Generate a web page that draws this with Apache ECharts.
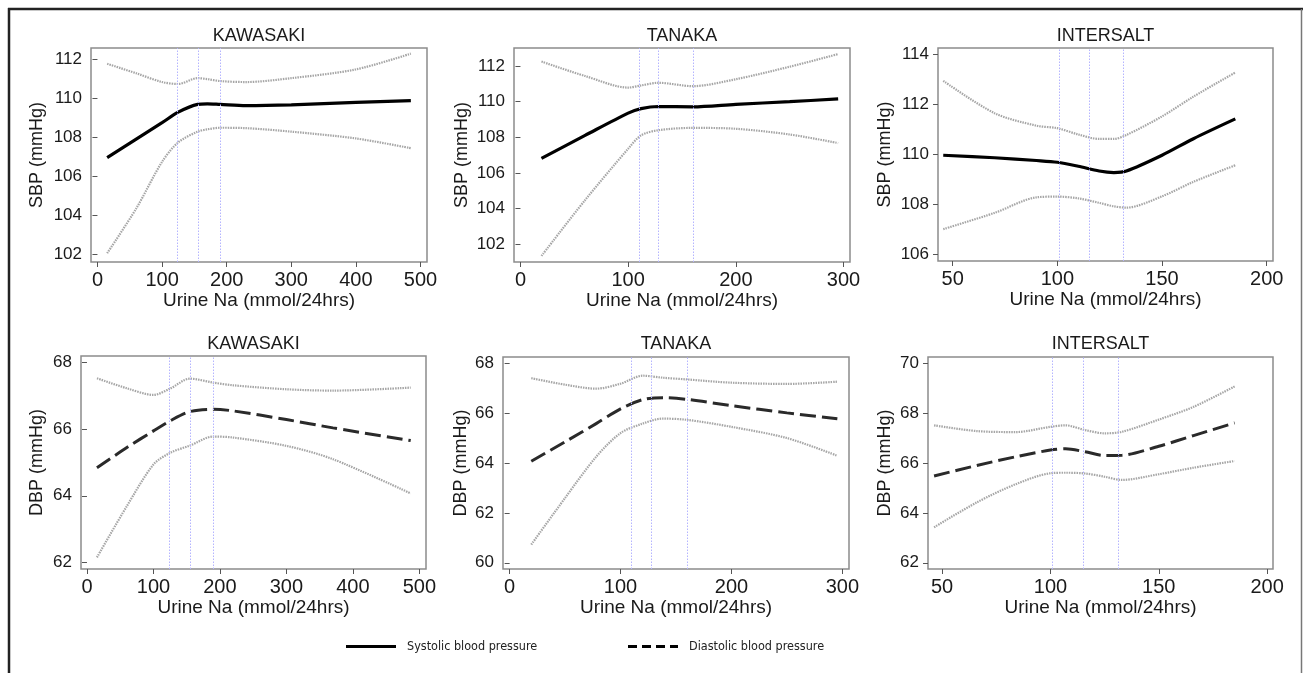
<!DOCTYPE html>
<html>
<head>
<meta charset="utf-8">
<script src="https://cdn.jsdelivr.net/npm/echarts@6/dist/echarts.min.js"></script>
<style>
html,body{margin:0;padding:0;background:#fff;}
#chart{width:1303px;height:673px;}
</style>
</head>
<body>
<div id="chart"></div>
<script>
// ---------- DATA ----------
const panelTitles = ['KAWASAKI', 'TANAKA', 'INTERSALT', 'KAWASAKI', 'TANAKA', 'INTERSALT'];
const yTitles = ['SBP (mmHg)', 'SBP (mmHg)', 'SBP (mmHg)', 'DBP (mmHg)', 'DBP (mmHg)', 'DBP (mmHg)'];
const xTitle = 'Urine Na (mmol/24hrs)';
const legendNames = ['Systolic blood pressure', 'Diastolic blood pressure'];

// tick labels
const xTicksKaw = [0, 100, 200, 300, 400, 500];
const xTicksTan = [0, 100, 200, 300];
const xTicksInt = [50, 100, 150, 200];
const yTicksKawSbp = [102, 104, 106, 108, 110, 112];
const yTicksTanSbp = [102, 104, 106, 108, 110, 112];
const yTicksIntSbp = [106, 108, 110, 112, 114];
const yTicksKawDbp = [62, 64, 66, 68];
const yTicksTanDbp = [60, 62, 64, 66, 68];
const yTicksIntDbp = [62, 64, 66, 68, 70];

// KAWASAKI SBP
const kawSbpX   = [15, 60, 100, 125, 155, 170, 190, 230, 300, 400, 485];
const kawSbpFit = [106.97, 107.92, 108.76, 109.3, 109.7, 109.73, 109.7, 109.64, 109.68, 109.8, 109.9];
const kawSbpHi  = [111.79, 111.3, 110.85, 110.75, 111.05, 111.0, 110.9, 110.85, 111.05, 111.5, 112.31];
const kawSbpLo  = [102.05, 104.35, 106.75, 107.75, 108.3, 108.42, 108.5, 108.48, 108.3, 107.95, 107.45];
const kawKnots  = [124, 156, 190.5];

// TANAKA SBP
const tanSbpX   = [19.5, 60, 100, 112, 128, 160, 200, 250, 295];
const tanSbpFit = [106.81, 108.1, 109.35, 109.6, 109.72, 109.7, 109.84, 109.99, 110.15];
const tanSbpHi  = [112.24, 111.43, 110.78, 110.9, 111.05, 110.86, 111.25, 111.95, 112.66];
const tanSbpLo  = [101.34, 104.47, 107.35, 108.1, 108.39, 108.52, 108.47, 108.15, 107.67];
const tanKnots  = [110, 128, 160];

// INTERSALT SBP
const intSbpX   = [45.5, 70, 90, 100, 110, 120, 127, 133, 150, 165, 185];
const intSbpFit = [109.97, 109.87, 109.76, 109.69, 109.53, 109.34, 109.28, 109.34, 109.97, 110.63, 111.42];
const intSbpHi  = [112.94, 111.65, 111.15, 111.05, 110.8, 110.62, 110.62, 110.78, 111.52, 112.31, 113.27];
const intSbpLo  = [107.02, 107.67, 108.29, 108.32, 108.25, 108.07, 107.93, 107.88, 108.33, 108.91, 109.57];
const intKnots  = [101, 115, 131.4];

// KAWASAKI DBP
const kawDbpX   = [15, 60, 100, 125, 155, 190, 220, 300, 370, 487];
const kawDbpFit = [64.84, 65.45, 65.95, 66.25, 66.53, 66.6, 66.55, 66.29, 66.04, 65.66];
const kawDbpHi  = [67.53, 67.23, 67.03, 67.22, 67.52, 67.4, 67.32, 67.2, 67.16, 67.25];
const kawDbpLo  = [62.15, 63.69, 64.94, 65.29, 65.51, 65.78, 65.75, 65.5, 65.1, 64.07];

// TANAKA DBP
const tanDbpX   = [19.5, 50, 78, 100, 120, 138, 160, 200, 250, 295.5];
const tanDbpFit = [64.07, 64.85, 65.58, 66.17, 66.54, 66.62, 66.55, 66.3, 66.01, 65.77];
const tanDbpHi  = [67.4, 67.14, 66.98, 67.18, 67.5, 67.42, 67.35, 67.22, 67.17, 67.26];
const tanDbpLo  = [60.73, 62.6, 64.25, 65.2, 65.58, 65.78, 65.73, 65.45, 65.0, 64.29];

// INTERSALT DBP
const intDbpX   = [46.3, 66, 84, 100, 107, 116, 125, 133, 150, 166, 185];
const intDbpFit = [65.48, 65.9, 66.25, 66.52, 66.57, 66.45, 66.3, 66.31, 66.67, 67.1, 67.61];
const intDbpHi  = [67.51, 67.28, 67.24, 67.45, 67.51, 67.32, 67.19, 67.25, 67.74, 68.25, 69.07];
const intDbpLo  = [63.42, 64.42, 65.15, 65.59, 65.61, 65.58, 65.45, 65.32, 65.55, 65.81, 66.08];

// ---------- LAYOUT ----------
const FONT = "'Liberation Sans', Arial, sans-serif";
const LEGEND_FONT = "'Liberation Sans Narrow', 'Arial Narrow', 'DejaVu Sans Condensed', 'Liberation Sans', sans-serif";

const panels = [
  {grid:{left:91, top:48, width:336, height:214},  xr:[-10,510], yr:[101.6,112.6], xt:xTicksKaw, yt:yTicksKawSbp, x:kawSbpX, fit:kawSbpFit, hi:kawSbpHi, lo:kawSbpLo, knots:kawKnots, dbp:false, gap:45},
  {grid:{left:514, top:48, width:336, height:214}, xr:[-6,306],  yr:[101,113],     xt:xTicksTan, yt:yTicksTanSbp, x:tanSbpX, fit:tanSbpFit, hi:tanSbpHi, lo:tanSbpLo, knots:tanKnots, dbp:false, gap:43},
  {grid:{left:938, top:48, width:335, height:213}, xr:[43,203],  yr:[105.75,114.25], xt:xTicksInt, yt:yTicksIntSbp, x:intSbpX, fit:intSbpFit, hi:intSbpHi, lo:intSbpLo, knots:intKnots, dbp:false, gap:44},
  {grid:{left:81, top:356, width:345, height:213}, xr:[-9,510],  yr:[61.8,68.2],   xt:xTicksKaw, yt:yTicksKawDbp, x:kawDbpX, fit:kawDbpFit, hi:kawDbpHi, lo:kawDbpLo, knots:kawKnots, dbp:true, gap:35},
  {grid:{left:503, top:357, width:346, height:212},xr:[-6,306],  yr:[59.75,68.25], xt:xTicksTan, yt:yTicksTanDbp, x:tanDbpX, fit:tanDbpFit, hi:tanDbpHi, lo:tanDbpLo, knots:tanKnots, dbp:true, gap:33},
  {grid:{left:928, top:357, width:345, height:212},xr:[43.5,202.7], yr:[61.75,70.25], xt:xTicksInt, yt:yTicksIntDbp, x:intDbpX, fit:intDbpFit, hi:intDbpHi, lo:intDbpLo, knots:intKnots, dbp:true, gap:34}
];

const zip = (xs, ys) => xs.map((v, i) => [v, ys[i]]);

const grids = [], xAxes = [], yAxes = [], series = [], graphics = [];

panels.forEach((p, i) => {
  grids.push(Object.assign({show:true, borderColor:'#8c8c8c', borderWidth:1.5, backgroundColor:'#fff', containLabel:false}, p.grid));
  xAxes.push({
    type:'value', gridIndex:i, min:p.xr[0], max:p.xr[1],
    name:xTitle, nameLocation:'middle', nameGap:21,
    nameTextStyle:{fontFamily:FONT, fontSize:19, color:'#1a1a1a'},
    axisLine:{show:false},
    splitLine:{show:false},
    axisTick:{show:true, length:5, inside:false, customValues:p.xt, lineStyle:{color:'#555', width:1}},
    axisLabel:{customValues:p.xt, fontFamily:FONT, fontSize:20, color:'#1a1a1a', margin:8}
  });
  yAxes.push({
    type:'value', gridIndex:i, min:p.yr[0], max:p.yr[1],
    name:yTitles[i], nameLocation:'middle', nameGap:p.gap, nameRotate:90,
    nameTextStyle:{fontFamily:FONT, fontSize:18, color:'#1a1a1a'},
    axisLine:{show:false},
    splitLine:{show:false},
    axisTick:{show:true, length:5, inside:false, customValues:p.yt, lineStyle:{color:'#555', width:1}},
    axisLabel:{customValues:p.yt, fontFamily:FONT, fontSize:17, color:'#1a1a1a', margin:9}
  });
  const ciStyle = {color:'#a6a6a6', width:2.2, type:[1.5,1]};
  series.push({
    type:'line', name:'95% CI upper', xAxisIndex:i, yAxisIndex:i, data:zip(p.x, p.hi),
    showSymbol:false, symbol:'none', smooth:0.3, lineStyle:ciStyle, silent:true, z:2
  });
  series.push({
    type:'line', name:'95% CI lower', xAxisIndex:i, yAxisIndex:i, data:zip(p.x, p.lo),
    showSymbol:false, symbol:'none', smooth:0.3, lineStyle:ciStyle, silent:true, z:2
  });
  series.push({
    type:'line', name: p.dbp ? legendNames[1] : legendNames[0], xAxisIndex:i, yAxisIndex:i, data:zip(p.x, p.fit),
    showSymbol:false, symbol:'none', smooth:0.3, z:3,
    color: p.dbp ? '#222' : '#000',
    lineStyle: p.dbp ? {color:'#2a2a2a', width:3, type:[16,6]} : {color:'#000', width:3.2},
    markLine:{
      silent:true, symbol:['none','none'], label:{show:false},
      lineStyle:{color:'#b4b4ff', width:1, type:[1.5,1.5]},
      data:p.knots.map(k => ({xAxis:k}))
    }
  });
  // panel title
  graphics.push({
    type:'text', x:p.grid.left + p.grid.width/2, y: i < 3 ? 36 : 344,
    style:{text:panelTitles[i], fontFamily:FONT, fontSize:18, fill:'#1a1a1a', align:'center', verticalAlign:'middle'}
  });
});

// outer frame
graphics.push({type:'line', shape:{x1:9, y1:8, x2:9, y2:673}, style:{stroke:'#222', lineWidth:2.5}});
graphics.push({type:'line', shape:{x1:8, y1:9, x2:1303, y2:9}, style:{stroke:'#222', lineWidth:2.5}});
graphics.push({type:'line', shape:{x1:1301.5, y1:9, x2:1301.5, y2:673}, style:{stroke:'#777', lineWidth:1.5}});

const legendBase = {
  show:true, orient:'horizontal', top:640, padding:0, itemWidth:50, itemHeight:3,
  textStyle:{fontFamily:LEGEND_FONT, fontSize:12.5, color:'#222', padding:[0,0,0,6]},
  selectedMode:false
};

const chart = echarts.init(document.getElementById('chart'), null, {renderer:'canvas'});
chart.setOption({
  animation:false,
  backgroundColor:'#fff',
  grid:grids, xAxis:xAxes, yAxis:yAxes, series:series,
  legend:[
    Object.assign({}, legendBase, {left:346, data:[{name:legendNames[0], icon:'path://M0,0L50,0L50,3L0,3Z', itemStyle:{color:'#000'}}]}),
    Object.assign({}, legendBase, {left:628, data:[{name:legendNames[1], icon:'path://M0,0h9v3h-9zM14,0h9v3h-9zM28,0h9v3h-9zM42,0h8v3h-8z', itemStyle:{color:'#000'}}]})
  ],
  graphic:graphics
});
</script>
</body>
</html>
